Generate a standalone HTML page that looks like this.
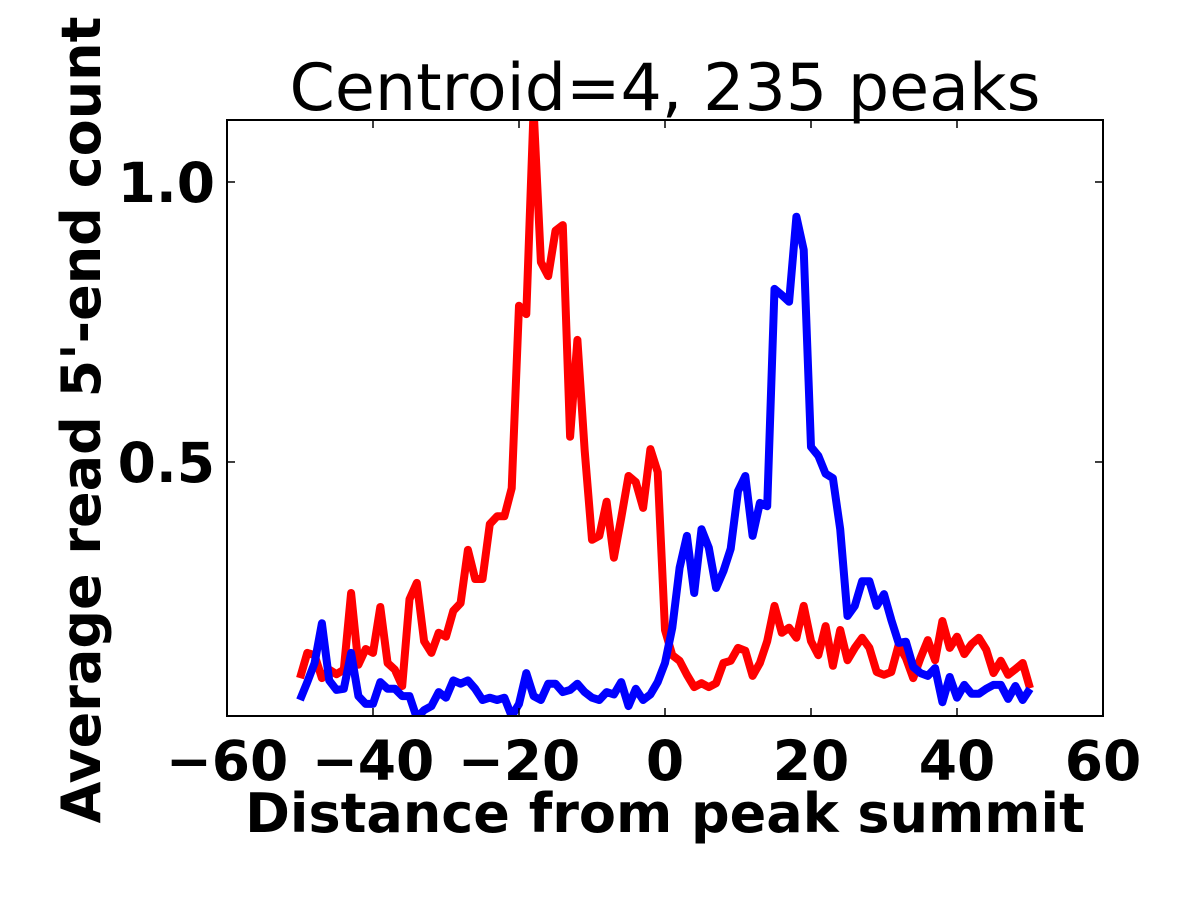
<!DOCTYPE html>
<html><head><meta charset="utf-8"><style>
html,body{margin:0;padding:0;background:#fff;}
svg{display:block;font-family:"Liberation Sans","DejaVu Sans",sans-serif;}
</style></head><body>
<svg id="chart" width="1200" height="900">
<text x="665" y="110" text-anchor="middle" font-size="65" font-family="DejaVu Sans, sans-serif">Centroid=4, 235 peaks</text>
<g id="plot"></g>
<text x="665" y="832" text-anchor="middle" font-size="54" font-weight="bold" font-family="DejaVu Sans, sans-serif">Distance from peak summit</text>
<text transform="translate(100,420) rotate(-90)" text-anchor="middle" font-size="54" font-weight="bold" font-family="DejaVu Sans, sans-serif">Average read 5'-end count</text>
</svg>
<script>
const xTicks=[-60,-40,-20,0,20,40,60];
const xTickLabels=["\u221260","\u221240","\u221220","0","20","40","60"];
const yTicks=[0.5,1.0];
const yTickLabels=["0.5","1.0"];
const positions=[];for(let k=-50;k<=50;k++)positions.push(k);
const redValues=[0.114,0.159,0.155,0.114,0.129,0.121,0.129,0.266,0.138,0.166,0.159,0.241,0.141,0.129,0.1,0.255,0.284,0.18,0.159,0.195,0.188,0.234,0.248,0.343,0.291,0.291,0.389,0.403,0.403,0.453,0.779,0.764,1.13,0.857,0.832,0.913,0.923,0.545,0.718,0.52,0.361,0.368,0.429,0.329,0.4,0.475,0.464,0.418,0.523,0.482,0.2,0.155,0.145,0.12,0.098,0.105,0.098,0.105,0.141,0.145,0.168,0.163,0.118,0.141,0.18,0.243,0.195,0.204,0.186,0.243,0.18,0.155,0.207,0.136,0.2,0.146,0.168,0.186,0.168,0.125,0.12,0.125,0.173,0.15,0.114,0.15,0.182,0.146,0.216,0.168,0.188,0.157,0.175,0.186,0.165,0.123,0.145,0.12,0.13,0.141,0.096];
const blueValues=[0.075,0.107,0.141,0.212,0.11,0.093,0.095,0.159,0.082,0.068,0.068,0.107,0.095,0.095,0.082,0.082,0.043,0.057,0.064,0.089,0.079,0.11,0.104,0.11,0.095,0.075,0.079,0.075,0.079,0.046,0.068,0.123,0.082,0.075,0.104,0.104,0.089,0.093,0.104,0.089,0.079,0.075,0.089,0.085,0.107,0.064,0.095,0.075,0.085,0.107,0.141,0.204,0.311,0.368,0.266,0.38,0.347,0.275,0.305,0.345,0.448,0.475,0.368,0.427,0.421,0.809,0.798,0.786,0.938,0.879,0.527,0.511,0.479,0.471,0.38,0.225,0.243,0.287,0.287,0.243,0.264,0.218,0.177,0.179,0.134,0.123,0.118,0.132,0.071,0.116,0.079,0.102,0.086,0.086,0.095,0.102,0.102,0.077,0.1,0.075,0.095];
const L=227,R=1103,T=120,B=716,xmin=-60,xmax=60,ymin=0.0464,ymax=1.1107;
const sx=v=>L+(v-xmin)/(xmax-xmin)*(R-L);
const sy=v=>B-(v-ymin)/(ymax-ymin)*(B-T);
const NS='http://www.w3.org/2000/svg';
const svg=document.getElementById('chart');
const plot=document.getElementById('plot');
function mk(tag,attrs,parent){const e=document.createElementNS(NS,tag);for(const k in attrs)e.setAttribute(k,attrs[k]);parent.appendChild(e);return e;}
const defs=mk('defs',{},svg);
const cp=mk('clipPath',{id:'clip'},defs);
mk('rect',{x:L,y:T,width:R-L,height:B-T},cp);
function series(vals,color,name){
  const d=vals.map((v,i)=>(i?'L':'M')+sx(positions[i]).toFixed(1)+' '+sy(v).toFixed(1)).join(' ');
  const p=mk('path',{d:d,fill:'none',stroke:color,'stroke-width':8,'stroke-linejoin':'round','clip-path':'url(#clip)'},plot);
  
  
}
series(redValues,'#ff0000','red-series-line');
series(blueValues,'#0000ff','blue-series-line');
const frame=mk('rect',{x:L,y:T,width:R-L,height:B-T,fill:'none',stroke:'#000','stroke-width':2},plot);


xTicks.forEach((t,i)=>{
  const x=sx(t);
  mk('line',{x1:x,x2:x,y1:B,y2:B-8,stroke:'#000','stroke-width':1.5},plot);
  mk('line',{x1:x,x2:x,y1:T,y2:T+8,stroke:'#000','stroke-width':1.5},plot);
  const tx=mk('text',{x:x,y:B+64,'text-anchor':'middle','font-size':55,'font-weight':'bold','font-family':'DejaVu Sans, sans-serif'},plot);
  tx.textContent=xTickLabels[i];
  
  
});
yTicks.forEach((t,i)=>{
  const y=sy(t);
  mk('line',{x1:L,x2:L+8,y1:y,y2:y,stroke:'#000','stroke-width':1.5},plot);
  mk('line',{x1:R,x2:R-8,y1:y,y2:y,stroke:'#000','stroke-width':1.5},plot);
  const ty=mk('text',{x:L-12,y:y+20,'text-anchor':'end','font-size':55,'font-weight':'bold','font-family':'DejaVu Sans, sans-serif'},plot);
  ty.textContent=yTickLabels[i];
  
  
});
</script>
</body></html>
